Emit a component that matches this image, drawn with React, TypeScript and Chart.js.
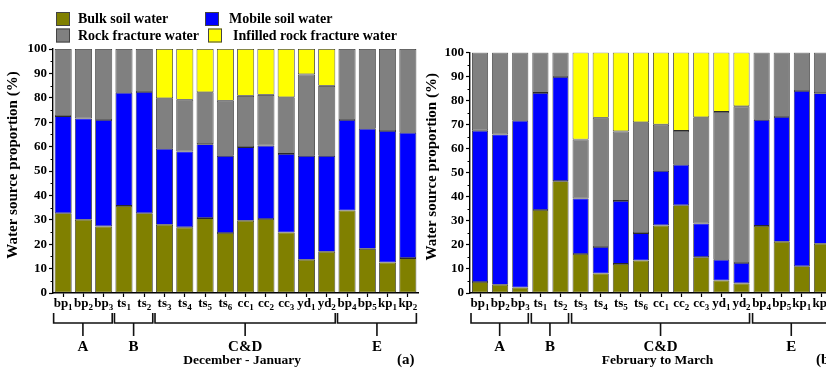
import { useEffect, useRef } from 'react';
import { Chart, registerables } from 'chart.js';

Chart.register(...registerables);

const FONT = '"Liberation Serif", "Times New Roman", serif';

// Sampling sites along the x axis (letters + subscript number)
const sites = ['bp1', 'bp2', 'bp3', 'ts1', 'ts2', 'ts3', 'ts4', 'ts5', 'ts6', 'cc1', 'cc2', 'cc3', 'yd1', 'yd2', 'bp4', 'bp5', 'kp1', 'kp2'];

// Site groups shown with brackets under the axis
const groupNames = ['A', 'B', 'C&D', 'E'];
const groupFirst = [0, 3, 5, 14];
const groupLast = [2, 4, 13, 17];

const seriesNames = ['Bulk soil water', 'Mobile soil water', 'Rock fracture water', 'Infilled rock fracture water'];
const seriesColors = ['#808000', '#0000ff', '#808080', '#ffff00'];

// December - January proportions (%)
const decBulk = [32.7, 30.0, 27.3, 35.7, 32.7, 28.0, 26.9, 30.7, 24.6, 29.6, 30.3, 24.8, 13.6, 16.9, 33.8, 18.1, 12.5, 14.3];
const decMobile = [39.8, 41.5, 43.6, 46.4, 49.7, 31.1, 31.1, 30.3, 31.6, 30.2, 30.1, 32.2, 42.6, 39.3, 37.1, 49.2, 53.9, 51.4];
const decRock = [27.5, 28.5, 29.1, 17.9, 17.6, 20.7, 21.2, 21.3, 22.6, 21.0, 20.8, 23.2, 33.4, 28.7, 29.1, 32.7, 33.6, 34.3];
const decInfilled = [0, 0, 0, 0, 0, 20.2, 20.8, 17.7, 21.2, 19.2, 18.8, 19.8, 10.4, 15.1, 0, 0, 0, 0];

// February to March proportions (%)
const febBulk = [4.6, 3.4, 2.3, 34.5, 46.5, 16.2, 8.1, 12.1, 13.5, 28.1, 36.5, 14.9, 5.2, 4.0, 27.9, 21.3, 11.1, 20.5];
const febMobile = [62.9, 62.5, 69.3, 48.7, 43.3, 23.1, 11.0, 26.2, 11.4, 22.7, 16.8, 14.0, 8.6, 8.5, 44.1, 51.9, 72.9, 62.6];
const febRock = [32.5, 34.1, 28.4, 16.8, 10.2, 24.5, 53.8, 28.9, 46.1, 19.2, 14.1, 44.2, 61.5, 65.1, 28.0, 26.8, 16.0, 16.9];
const febInfilled = [0, 0, 0, 0, 0, 36.2, 27.1, 32.8, 29.0, 30.0, 32.6, 26.9, 24.7, 22.4, 0, 0, 0, 0];

const H = 368;
const AXIS_Y = 293;

const decor = {
  id: 'decor',
  afterDraw(chart: any, _args: any, opts: any) {
    const ctx = chart.ctx as CanvasRenderingContext2D;
    const xs = chart.scales.x;
    const ys = chart.scales.y;
    const area = chart.chartArea;
    const pitch = (area.right - area.left) / sites.length;
    const halfBar = (pitch * opts.barFraction) / 2;
    ctx.save();
    ctx.fillStyle = '#000';
    ctx.strokeStyle = '#000';

    // minor y ticks
    ctx.lineWidth = 1;
    for (let v = 5; v < 100; v += 10) {
      const py = Math.round(ys.getPixelForValue(v)) + 0.5;
      ctx.beginPath();
      ctx.moveTo(area.left - 2.5, py);
      ctx.lineTo(area.left, py);
      ctx.stroke();
    }

    // site labels with subscripts
    ctx.textBaseline = 'alphabetic';
    ctx.textAlign = 'left';
    sites.forEach((s, i) => {
      const m = s.match(/^([a-z]+)(\d+)$/);
      const base = m ? m[1] : s;
      const sub = m ? m[2] : '';
      ctx.font = `bold 13px ${FONT}`;
      const wb = ctx.measureText(base).width;
      ctx.font = `bold 9px ${FONT}`;
      const ws = ctx.measureText(sub).width;
      const cx = xs.getPixelForValue(i);
      const x0 = cx - (wb + ws) / 2;
      ctx.font = `bold 13px ${FONT}`;
      ctx.fillText(base, x0, 307);
      ctx.font = `bold 9px ${FONT}`;
      ctx.fillText(sub, x0 + wb, 310);
    });

    // group brackets
    ctx.lineWidth = 1.6;
    ctx.strokeStyle = '#111';
    let cdStem = 0;
    groupNames.forEach((g, k) => {
      const l = xs.getPixelForValue(groupFirst[k]) - halfBar - 1;
      const r = xs.getPixelForValue(groupLast[k]) + halfBar;
      const mid = (l + r) / 2;
      ctx.beginPath();
      ctx.moveTo(l, 313);
      ctx.lineTo(l, 323);
      ctx.lineTo(r, 323);
      ctx.lineTo(r, 313);
      ctx.moveTo(mid, 323);
      ctx.lineTo(mid, 336);
      ctx.stroke();
      ctx.font = `bold 15px ${FONT}`;
      ctx.textAlign = 'center';
      ctx.fillText(g, mid, 350.5);
      if (g === 'C&D') cdStem = mid;
    });

    // period caption and panel tag
    ctx.font = `bold 13.5px ${FONT}`;
    ctx.textAlign = 'center';
    ctx.fillText(opts.subtitle, cdStem - 3, 363.5);
    ctx.font = `bold 15px ${FONT}`;
    ctx.textAlign = 'left';
    ctx.fillText(opts.tag, opts.tagX, 364);

    // y axis title
    ctx.save();
    ctx.translate(opts.titleX, (area.top + area.bottom) / 2 - 6);
    ctx.rotate(-Math.PI / 2);
    ctx.font = `bold 15px ${FONT}`;
    ctx.textAlign = 'center';
    ctx.textBaseline = 'middle';
    ctx.fillText('Water source proportion (%)', 0, 0);
    ctx.restore();

    // legend (two rows of two)
    if (opts.legend) {
      const boxX = [56, 205, 56, 208];
      const boxY = [12, 12, 28.5, 28.5];
      const textX = [78, 229, 78, 233];
      const textY = [19.5, 19.5, 36, 36];
      ctx.font = `bold 14px ${FONT}`;
      ctx.textAlign = 'left';
      ctx.textBaseline = 'middle';
      ctx.lineWidth = 1;
      ctx.strokeStyle = '#444';
      seriesNames.forEach((name, i) => {
        ctx.fillStyle = seriesColors[i];
        ctx.fillRect(boxX[i], boxY[i], 14, 14);
        ctx.strokeRect(boxX[i] + 0.5, boxY[i] + 0.5, 13, 13);
        ctx.fillStyle = '#000';
        ctx.fillText(name, textX[i], textY[i]);
      });
    }
    ctx.restore();
  },
};

type PanelProps = {
  left: number;
  width: number;
  series: number[][];
  subtitle: string;
  tag: string;
  tagX: number;
  titleX: number;
  plotLeft: number;
  plotRight: number;
  plotTop: number;
  barFraction: number;
  legend: boolean;
};

function Panel(p: PanelProps) {
  const ref = useRef<HTMLCanvasElement>(null);
  useEffect(() => {
    const canvas = ref.current;
    if (!canvas) return;
    const tickFont = { family: FONT, size: 13, weight: 'bold' as const };
    const chart = new Chart(canvas, {
      type: 'bar',
      data: {
        labels: sites,
        datasets: p.series.map((vals, i) => ({
          label: seriesNames[i],
          data: vals.map((v) => (v === 0 ? null : v)),
          backgroundColor: seriesColors[i],
          borderColor: '#2a2a2a',
          borderWidth: 0.8,
          borderSkipped: false,
          barPercentage: p.barFraction,
          categoryPercentage: 1,
        })),
      },
      options: {
        responsive: false,
        animation: false,
        devicePixelRatio: 1,
        layout: { padding: { left: 0, top: p.plotTop, right: p.width - p.plotRight, bottom: 0 } },
        plugins: {
          legend: { display: false },
          tooltip: { enabled: false },
          decor: {
            subtitle: p.subtitle,
            tag: p.tag,
            tagX: p.tagX,
            titleX: p.titleX,
            legend: p.legend,
            barFraction: p.barFraction,
          },
        } as any,
        scales: {
          x: {
            stacked: true,
            offset: true,
            grid: { offset: false, drawOnChartArea: false, drawTicks: true, tickLength: 4, tickWidth: 1.2, tickColor: '#000' },
            border: { display: true, color: '#000', width: 1.4 },
            ticks: { display: false },
            afterFit: (s: any) => {
              s.height = H - AXIS_Y;
            },
          },
          y: {
            stacked: true,
            min: 0,
            max: 100,
            ticks: { stepSize: 10, color: '#000', font: tickFont, padding: 2 },
            grid: { drawOnChartArea: false, drawTicks: true, tickLength: 4, tickWidth: 1.2, tickColor: '#000' },
            border: { display: true, color: '#000', width: 1.4 },
            afterFit: (s: any) => {
              s.width = p.plotLeft;
            },
          },
        },
      },
      plugins: [decor],
    });
    return () => chart.destroy();
  }, []);
  return (
    <canvas
      ref={ref}
      width={p.width}
      height={H}
      style={{ position: 'absolute', left: p.left, top: 0, width: p.width, height: H }}
    />
  );
}

export default function App() {
  return (
    <div style={{ position: 'fixed', left: 0, top: 0, width: 826, height: H, overflow: 'hidden', background: '#fff' }}>
      <Panel
        left={0}
        width={420}
        series={[decBulk, decMobile, decRock, decInfilled]}
        subtitle="December - January"
        tag="(a)"
        tagX={397}
        titleX={13.5}
        plotLeft={53}
        plotRight={418}
        plotTop={49}
        barFraction={0.84}
        legend={true}
      />
      <Panel
        left={420}
        width={420}
        series={[febBulk, febMobile, febRock, febInfilled]}
        subtitle="February to March"
        tag="(b)"
        tagX={396}
        titleX={12}
        plotLeft={50}
        plotRight={412}
        plotTop={52.5}
        barFraction={0.8}
        legend={false}
      />
    </div>
  );
}
